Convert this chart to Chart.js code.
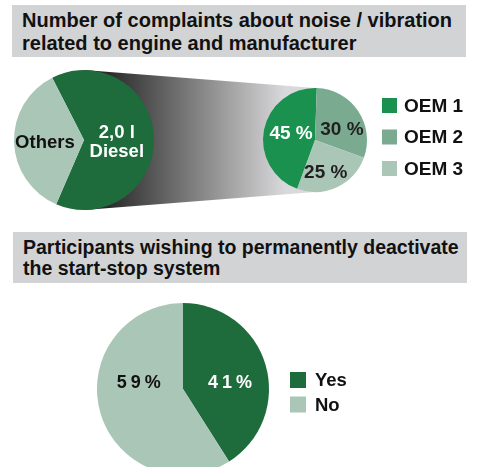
<!DOCTYPE html>
<html>
<head>
<meta charset="utf-8">
<script src="https://cdn.jsdelivr.net/npm/chart.js@4"></script>
<style>
  html, body { margin: 0; padding: 0; background: #fff; }
  body { width: 479px; height: 467px; overflow: hidden; position: relative;
         font-family: "Liberation Sans", Arial, Helvetica, sans-serif; }
  .band { position: absolute; background: #d2d3d5; color: #111; font-weight: bold;
          box-sizing: border-box; padding-left: 10px; }
  #title1 { left: 12px; top: 5px; width: 454px; height: 52px; font-size: 20px;
            line-height: 23px; padding-top: 4px; }
  #title2 { left: 13px; top: 232px; width: 454px; height: 51px; font-size: 19.5px;
            line-height: 20.5px; padding-top: 5px; }
  .box { position: absolute; }
</style>
</head>
<body>
<div class="band" id="title1">Number of complaints about noise / vibration<br>related to engine and manufacturer</div>
<div class="band" id="title2">Participants wishing to permanently deactivate<br>the start-stop system</div>

<div class="box" style="left:0;top:60px;width:479px;height:160px"><canvas id="engineChart"></canvas></div>
<div class="box" style="left:240px;top:60px;width:239px;height:160px"><canvas id="oemChart"></canvas></div>
<div class="box" style="left:0;top:290px;width:479px;height:190px"><canvas id="startStopChart"></canvas></div>

<script>
// data
const engineLabels = ["2,0 l\nDiesel", "Others"];
const engineValues = [64, 36];

const oemLabels = ["OEM 1", "OEM 2", "OEM 3"];
const oemValues = [45, 30, 25];

const startStopLabels = ["Yes", "No"];
const startStopValues = [41, 59];

const DARK = "#1e6b3c";
const PALE = "#a9c6b6";
const FONT = '"Liberation Sans", Arial, Helvetica, sans-serif';

// text inside the slices: [angle from 12 o'clock, fraction of radius]
const sliceText = {
  id: "sliceText",
  afterDatasetsDraw(chart, args, opts) {
    const ctx = chart.ctx;
    const arcs = chart.getDatasetMeta(0).data;
    ctx.save();
    ctx.font = "bold " + opts.size + "px " + FONT;
    ctx.textAlign = "center";
    ctx.textBaseline = "middle";
    if (opts.spacing) ctx.letterSpacing = opts.spacing + "px";
    arcs.forEach((arc, i) => {
      const [deg, frac] = opts.at[i];
      const a = (deg * Math.PI) / 180;
      const r = arc.outerRadius * frac;
      const x = arc.x + r * Math.sin(a) + (opts.spacing || 0) / 2;
      const y = arc.y - r * Math.cos(a);
      const lines = opts.text[i].split("\n");
      ctx.fillStyle = opts.colors[i];
      lines.forEach((ln, k) => {
        ctx.fillText(ln, x, y + (k - (lines.length - 1) / 2) * opts.lineHeight);
      });
    });
    ctx.restore();
  },
};

// legend drawn beside the pie
const sideLegend = {
  id: "sideLegend",
  afterDraw(chart, args, opts) {
    if (!opts.x) return;
    const ctx = chart.ctx;
    const colors = chart.data.datasets[0].backgroundColor;
    ctx.save();
    ctx.font = "bold " + opts.size + "px " + FONT;
    ctx.textBaseline = "middle";
    chart.data.labels.forEach((lab, i) => {
      const cy = opts.y + i * opts.gap;
      ctx.fillStyle = colors[i];
      ctx.fillRect(opts.x, cy - opts.box / 2, opts.box, opts.box);
      ctx.fillStyle = "#111";
      ctx.fillText(lab, opts.textX, cy + 1);
    });
    ctx.restore();
  },
};

// grey funnel from the diesel slice to the OEM pie
const funnel = {
  id: "funnel",
  beforeDatasetsDraw(chart, args, opts) {
    if (!opts.to) return;
    const arc = chart.getDatasetMeta(0).data[0];
    const ctx = chart.ctx;
    const x1 = arc.x, r1 = arc.outerRadius;
    const { x: x2, y: y2, r: r2 } = opts.to;
    const g = ctx.createLinearGradient(x1 + 20, 0, x2 - 30, 0);
    g.addColorStop(0, "#262626");
    g.addColorStop(1, "#d9d9db");
    ctx.save();
    ctx.beginPath();
    ctx.moveTo(x1, arc.y - r1);
    ctx.lineTo(x2, y2 - r2);
    ctx.lineTo(x2, y2 + r2);
    ctx.lineTo(x1, arc.y + r1);
    ctx.closePath();
    ctx.fillStyle = g;
    ctx.fill();
    ctx.restore();
  },
};

Chart.register(sliceText, sideLegend, funnel);

const baseOptions = (padding, rotation) => ({
  responsive: true,
  maintainAspectRatio: false,
  animation: false,
  rotation: rotation,
  layout: { padding: padding },
  plugins: { legend: { display: false }, tooltip: { enabled: false } },
});

new Chart(document.getElementById("engineChart"), {
  type: "pie",
  data: {
    labels: engineLabels,
    datasets: [{ data: engineValues, backgroundColor: [DARK, PALE], borderWidth: 0 }],
  },
  options: Object.assign(baseOptions({ left: 14, top: 10, right: 325, bottom: 10 }, -27), {
    plugins: {
      legend: { display: false },
      tooltip: { enabled: false },
      funnel: { to: { x: 315, y: 80, r: 52 } },
      sliceText: {
        text: engineLabels,
        colors: ["#fff", "#111"],
        at: [[95, 0.47], [266, 0.56]],
        size: 18.5,
        lineHeight: 19,
      },
    },
  }),
});

new Chart(document.getElementById("oemChart"), {
  type: "pie",
  data: {
    labels: oemLabels,
    datasets: [{ data: oemValues, backgroundColor: ["#1a914f", "#7aab91", PALE], borderWidth: 0 }],
  },
  options: Object.assign(baseOptions({ left: 23, top: 28, right: 112, bottom: 28 }, 200), {
    plugins: {
      legend: { display: false },
      tooltip: { enabled: false },
      sliceText: {
        text: oemValues.map((v) => v + " %"),
        colors: ["#fff", "#231f20", "#231f20"],
        at: [[284, 0.475], [70, 0.55], [162, 0.67]],
        size: 19,
        lineHeight: 19,
      },
      sideLegend: { x: 142, y: 45.5, gap: 31.5, box: 15, textX: 164, size: 19 },
    },
  }),
});

new Chart(document.getElementById("startStopChart"), {
  type: "pie",
  data: {
    labels: startStopLabels,
    datasets: [{ data: startStopValues, backgroundColor: [DARK, PALE], borderWidth: 0 }],
  },
  options: Object.assign(baseOptions({ left: 97, top: 13, right: 210, bottom: 5 }, 0), {
    plugins: {
      legend: { display: false },
      tooltip: { enabled: false },
      sliceText: {
        text: startStopValues.map((v) => v + "%"),
        colors: ["#fff", "#111"],
        at: [[83, 0.55], [278, 0.52]],
        size: 18,
        spacing: 4,
        lineHeight: 18,
      },
      sideLegend: { x: 290, y: 90, gap: 24.5, box: 16, textX: 315, size: 18.5 },
    },
  }),
});
</script>
</body>
</html>
